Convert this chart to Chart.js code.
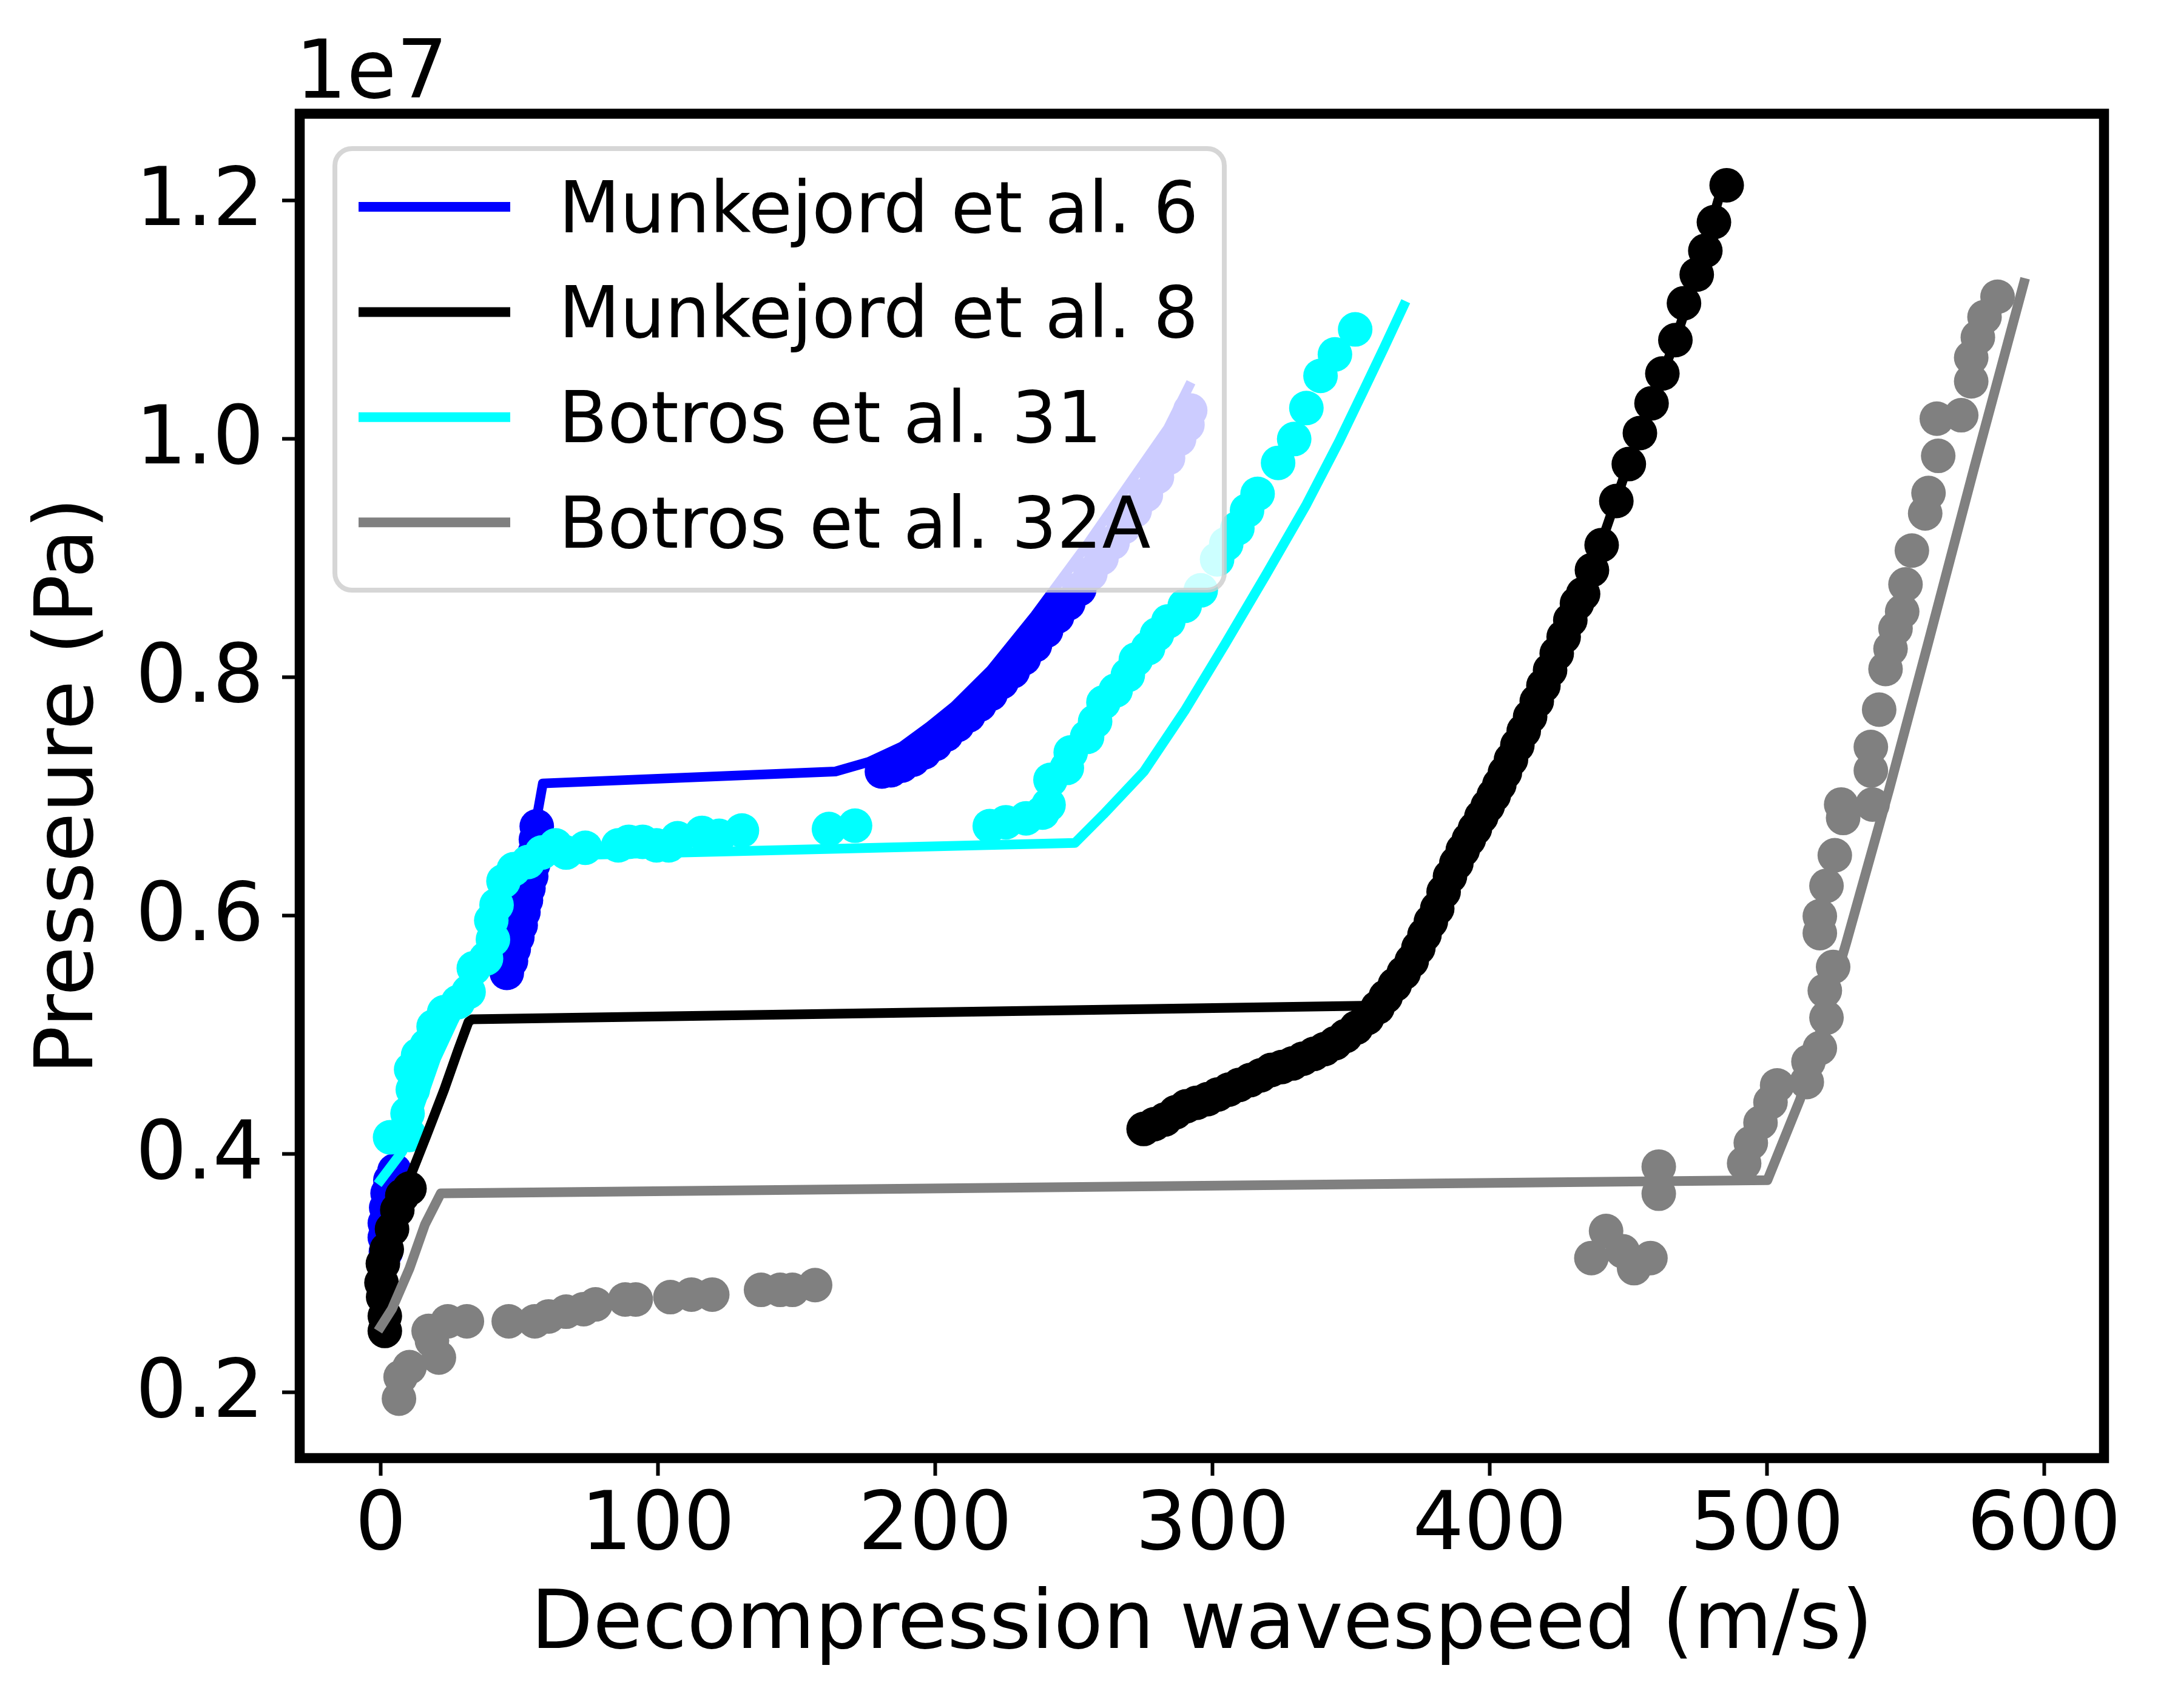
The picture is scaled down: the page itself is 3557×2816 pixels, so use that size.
<!DOCTYPE html>
<html>
<head>
<meta charset="utf-8">
<script src="https://cdn.jsdelivr.net/npm/chart.js@4.4.1/dist/chart.umd.min.js"></script>
<style>
  html, body { margin: 0; padding: 0; background: #fff; }
  canvas { display: block; }
</style>
</head>
<body>
<canvas id="wavespeedChart" width="3557" height="2816" style="width:3557px;height:2816px"></canvas>
<script>
// pressures are in units of 1e7 Pa (offset shown as "1e7" above the axis)
const xTicks = [0, 100, 200, 300, 400, 500, 600];
const yTicks = [0.2, 0.4, 0.6, 0.8, 1.0, 1.2];

const labels = ['Munkejord et al. 6', 'Munkejord et al. 8', 'Botros et al. 31', 'Botros et al. 32A'];
const colors = ['#0000ff', '#000000', '#00ffff', '#808080'];

// model curves
const munk6ModelX = [0, 6, 12, 18, 25, 33, 40, 45, 50, 54, 56.5, 58.5, 164, 176, 188, 198, 207, 220, 236, 255, 272, 284, 291.5];
const munk6ModelP = [0.378, 0.40, 0.44, 0.48, 0.51, 0.54, 0.58, 0.62, 0.64, 0.655, 0.685, 0.711, 0.721, 0.729, 0.742, 0.759, 0.776, 0.806, 0.852, 0.912, 0.969, 1.009, 1.044];

const munk8ModelX = [0, 5, 11, 16.6, 22.9, 27.9, 31.7, 33, 358, 365, 372, 381, 390, 405, 417, 429, 440, 450, 458.4, 467, 474.7, 482.4, 484.5];
const munk8ModelP = [0.318, 0.35, 0.383, 0.416, 0.454, 0.487, 0.511, 0.513, 0.5245, 0.545, 0.565, 0.605, 0.655, 0.717, 0.78, 0.848, 0.911, 0.979, 1.03, 1.083, 1.138, 1.2, 1.213];

const botros31ModelX = [0, 7.8, 14, 20, 28, 36, 42, 48, 55, 250.4, 260.7, 275.3, 290, 304.6, 319.3, 333.9, 345.7, 354.4, 362, 369];
const botros31ModelP = [0.378, 0.402, 0.44, 0.48, 0.52, 0.56, 0.6, 0.63, 0.65, 0.661, 0.685, 0.721, 0.772, 0.828, 0.886, 0.945, 0.998, 1.04, 1.077, 1.112];

const botros32AModelX = [0, 4.1, 10.4, 16, 21.7, 500.2, 512, 528.6, 544, 558.3, 574.9, 592.7];
const botros32AModelP = [0.255, 0.27, 0.304, 0.341, 0.367, 0.378, 0.446, 0.577, 0.705, 0.83, 0.977, 1.131];

// experimental points
const munk6ExpX = [1.9, 1.5, 1.5, 2, 2.5, 3.5, 5,
  45.5, 47, 48, 49.3, 50.5, 51.5, 52.4, 53.3, 54.3, 55, 55.6, 56, 56.3,
  180.8, 184, 188, 192, 196, 200, 204, 208, 212, 216, 220, 224, 228, 232, 236, 240, 244, 248, 252, 256, 260, 264, 268, 272, 276, 280, 284, 288, 291, 292];
const munk6ExpP = [0.318, 0.33, 0.342, 0.355, 0.367, 0.378, 0.386,
  0.552, 0.562, 0.572, 0.582, 0.592, 0.603, 0.613, 0.623, 0.633, 0.643, 0.653, 0.664, 0.675,
  0.721, 0.722, 0.726, 0.731, 0.737, 0.744, 0.752, 0.76, 0.768, 0.777, 0.786, 0.796, 0.805, 0.816, 0.827, 0.839, 0.851, 0.862, 0.874, 0.887, 0.9, 0.913, 0.926, 0.94, 0.953, 0.968, 0.984, 1.0, 1.012, 1.024];

const munk8ExpX = [1.5, 1.5, 0.9, 0.3, 0.8, 2.2, 4.1, 6, 7.8, 10.4,
  275.2, 279, 282.9, 286.7, 290.5, 294.3, 298.2, 302, 305.9, 309.7, 313.6, 317.4, 321.2, 325, 328.9, 332.7, 336.6, 340.4, 344.3, 348, 351.9, 355.8,
  359.6, 362.5, 365.8, 369, 371.9, 374.3, 376.5, 378.8, 381.1, 383.4, 385.7, 388,
  390.3, 392.5, 394.7, 397, 399.3, 401.5, 403.5, 405.5, 407.7, 410, 412.3, 414.6, 417, 419.4, 421.8, 424.2, 426.7, 429.1, 431.5, 433.7, 436.9, 440.4,
  445.7, 450.2, 454.2, 458.4, 462.3, 467, 470.1, 474.7, 477.8, 480.9, 485.5];
const munk8ExpP = [0.2515, 0.264, 0.28, 0.292, 0.308, 0.32, 0.337, 0.353, 0.365, 0.371,
  0.421, 0.425, 0.429, 0.435, 0.44, 0.443, 0.446, 0.45, 0.454, 0.458, 0.462, 0.466, 0.4705, 0.473, 0.476, 0.48, 0.484, 0.488, 0.493, 0.499, 0.506, 0.514,
  0.523, 0.532, 0.542, 0.552, 0.562, 0.573, 0.584, 0.595, 0.606, 0.62, 0.633, 0.644,
  0.655, 0.664, 0.673, 0.683, 0.692, 0.701, 0.71, 0.72, 0.731, 0.743, 0.755, 0.767, 0.78, 0.793, 0.806, 0.82, 0.834, 0.848, 0.862, 0.87, 0.89, 0.911,
  0.948, 0.979, 1.005, 1.03, 1.055, 1.083, 1.114, 1.138, 1.158, 1.182, 1.213];

const botros31ExpX = [3.4, 10.3, 9.7, 11.6, 11, 13.5, 16.6, 19.1, 22.9, 27.9, 31.7, 33.6, 38, 40.5, 39.9, 41.8, 44.3, 48, 53.1, 58.1, 63.1, 66.9, 73.8, 85.7, 89.5, 94.5, 99.5, 103.9, 107.1, 115.9, 122.1, 130.3, 161.7, 171.1,
  219.7, 225.5, 232.8, 238.7, 240.9, 241.6, 247.5, 248.9, 254.8, 257.7, 260.7, 265.1, 269.5, 272.4, 276.8, 280, 284.1, 290, 295.8, 301.7, 305, 309, 312.5, 316.3, 323.7, 329.5, 333.9, 339, 344.2, 351.5];
const botros31ExpP = [0.414, 0.416, 0.434, 0.454, 0.471, 0.483, 0.491, 0.507, 0.519, 0.5275, 0.536, 0.556, 0.564, 0.58, 0.596, 0.609, 0.629, 0.639, 0.645, 0.653, 0.659, 0.653, 0.657, 0.659, 0.662, 0.662, 0.659, 0.659, 0.665, 0.6695, 0.667, 0.6715, 0.6727, 0.6755,
  0.6752, 0.6784, 0.6817, 0.6865, 0.693, 0.714, 0.724, 0.737, 0.75, 0.763, 0.779, 0.789, 0.802, 0.815, 0.8245, 0.836, 0.847, 0.86, 0.873, 0.899, 0.912, 0.925, 0.94, 0.954, 0.98, 1.0, 1.026, 1.053, 1.071, 1.092];

const botros32AExpX = [6.6, 7.2, 10.4, 17.3, 21, 18.5, 24.2, 31.1, 46.2, 55.6, 60.6, 66.9, 73.2, 77.5, 88.2, 92, 104.5, 112.1, 119.6, 137.2, 144.1, 148.5, 156.7,
  436.7, 442, 448, 452.1, 458, 461, 461, 491.8, 494.2, 497.7, 501.3, 503.7, 514.4, 515, 519.1, 521.5, 520.9, 523.9, 519.1, 519.1, 521.5, 524.5, 527.5, 526.8, 538.1, 537.5, 537.5, 540.5, 542.8, 544.6, 546.4, 548.8, 550, 552.3, 557.1, 558.3, 561.8, 561.3, 570.1, 573.7, 573.7, 576.1, 578.5, 583.2];
const botros32AExpP = [0.1947, 0.2129, 0.2211, 0.2515, 0.2292, 0.2434, 0.2596, 0.2596, 0.2596, 0.2596, 0.2637, 0.2677, 0.2698, 0.2738, 0.2779, 0.2779, 0.2799, 0.282, 0.282, 0.286, 0.286, 0.286, 0.29,
  0.3127, 0.3354, 0.3184, 0.3042, 0.3127, 0.3894, 0.3667, 0.3922, 0.4093, 0.4263, 0.4434, 0.4576, 0.4604, 0.4775, 0.4888, 0.5144, 0.5371, 0.557, 0.5854, 0.5996, 0.6251, 0.6507, 0.682, 0.6933, 0.6933, 0.7218, 0.7416, 0.7729, 0.807, 0.824, 0.841, 0.8552, 0.878, 0.9064, 0.9376, 0.9547, 0.9859, 1.0171, 1.02, 1.0484, 1.0683, 1.0853, 1.1024, 1.1194];

function pts(xs, ys) {
  return xs.map(function(x, i) { return {x: x, y: ys[i]}; });
}

function modelSet(i, xs, ys, order) {
  return {
    type: 'scatter', label: labels[i], data: pts(xs, ys), order: order,
    showLine: true, borderColor: colors[i], backgroundColor: colors[i],
    borderWidth: 16, borderCapStyle: 'square', borderJoinStyle: 'round',
    pointRadius: 0, pointHoverRadius: 0, tension: 0, fill: false
  };
}

function expSet(i, xs, ys, order) {
  return {
    type: 'scatter', data: pts(xs, ys), order: order, showLine: false,
    backgroundColor: colors[i], borderColor: colors[i], borderWidth: 0,
    pointRadius: 28.5, pointHoverRadius: 28.5, pointBorderWidth: 0
  };
}

const FONT = 'DejaVu Sans';

// frame, offset text and an in-axes legend like matplotlib's
const decorations = {
  id: 'decorations',
  afterDatasetsDraw: function(chart) {
    const a = chart.chartArea;
    const ctx = chart.ctx;
    ctx.save();
    ctx.strokeStyle = '#000';
    ctx.lineWidth = 16.5;
    ctx.strokeRect(a.left, a.top, a.right - a.left, a.bottom - a.top);
    ctx.restore();
  },
  afterDraw: function(chart) {
    const ctx = chart.ctx;
    ctx.save();
    ctx.fillStyle = '#000';
    ctx.font = '133px "' + FONT + '"';
    ctx.textBaseline = 'alphabetic';
    ctx.textAlign = 'left';
    ctx.fillText('1e7', 487, 161);

    // legend box
    ctx.beginPath();
    ctx.roundRect(552, 245, 2018 - 552, 973 - 245, 28);
    ctx.fillStyle = 'rgba(255,255,255,0.8)';
    ctx.fill();
    ctx.lineWidth = 8;
    ctx.strokeStyle = 'rgba(204,204,204,0.8)';
    ctx.stroke();

    const items = chart.data.datasets.filter(function(d) { return d.label; });
    ctx.font = '117px "' + FONT + '"';
    items.forEach(function(d, i) {
      const y = 341 + i * 173.4;
      ctx.beginPath();
      ctx.moveTo(591, y);
      ctx.lineTo(841, y);
      ctx.lineWidth = 16;
      ctx.lineCap = 'butt';
      ctx.strokeStyle = d.borderColor;
      ctx.stroke();
      ctx.fillStyle = '#000';
      ctx.fillText(d.label, 921, y + 41.5);
    });
    ctx.restore();
  }
};

// lower order is drawn on top: blue model sits under the other markers,
// the remaining model lines sit over every marker
new Chart(document.getElementById('wavespeedChart'), {
  type: 'scatter',
  data: {
    datasets: [
      modelSet(0, munk6ModelX, munk6ModelP, 8),
      modelSet(1, munk8ModelX, munk8ModelP, 3),
      modelSet(2, botros31ModelX, botros31ModelP, 2),
      modelSet(3, botros32AModelX, botros32AModelP, 1),
      expSet(0, munk6ExpX, munk6ExpP, 9),
      expSet(1, munk8ExpX, munk8ExpP, 7),
      expSet(2, botros31ExpX, botros31ExpP, 6),
      expSet(3, botros32AExpX, botros32AExpP, 5)
    ]
  },
  options: {
    responsive: false,
    devicePixelRatio: 1,
    animation: false,
    events: [],
    layout: { padding: { left: 0, right: 89, top: 187.5, bottom: 0 } },
    plugins: { legend: { display: false }, tooltip: { enabled: false } },
    scales: {
      x: {
        type: 'linear', min: -29.2, max: 621.6,
        afterBuildTicks: function(s) { s.ticks = xTicks.map(function(v) { return {value: v}; }); },
        afterFit: function(s) { s.height = 412; },
        grid: { display: true, drawOnChartArea: false, drawTicks: true, tickLength: 29, tickWidth: 6, tickColor: '#000', color: '#000' },
        border: { display: false },
        ticks: { font: { family: FONT, size: 133 }, color: '#000', padding: 7, maxRotation: 0, autoSkip: false,
          callback: function(v) { return String(v); } },
        title: { display: true, text: 'Decompression wavespeed (m/s)', font: { family: FONT, size: 133 }, color: '#000',
          padding: { top: 0, bottom: 54 } }
      },
      y: {
        type: 'linear', min: 0.1448, max: 1.273,
        afterBuildTicks: function(s) { s.ticks = yTicks.map(function(v) { return {value: v}; }); },
        afterFit: function(s) { s.width = 494; },
        grid: { display: true, drawOnChartArea: false, drawTicks: true, tickLength: 29, tickWidth: 6, tickColor: '#000', color: '#000' },
        border: { display: false },
        ticks: { font: { family: FONT, size: 133 }, color: '#000', padding: 30, labelOffset: 5.7, autoSkip: false,
          callback: function(v) { return v.toFixed(1); } },
        title: { display: true, text: 'Presseure (Pa)', font: { family: FONT, size: 133 }, color: '#000',
          padding: { top: 37.6, bottom: 0 } }
      }
    }
  },
  plugins: [decorations]
});
</script>
</body>
</html>
